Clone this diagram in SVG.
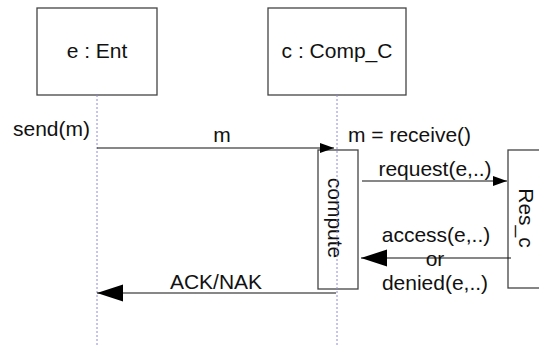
<svg xmlns="http://www.w3.org/2000/svg" width="539" height="347" viewBox="0 0 539 347">
  <style>
    .box { fill: #ffffff; stroke: #444444; stroke-width: 1.3; }
    .life { stroke: #8c8cd6; stroke-width: 1; stroke-dasharray: 2 2; fill: none; }
    .msg { stroke: #111111; stroke-width: 1.2; fill: none; }
    text { font-family: "Liberation Sans", Arial, sans-serif; font-size: 21px; fill: #111111; }
    .mid { text-anchor: middle; }
  </style>
  <defs>
    <marker id="headSmall" markerUnits="userSpaceOnUse" markerWidth="16" markerHeight="12" refX="14" refY="5" orient="auto">
      <path d="M0,0 L14,5 L0,10 Z" fill="#000000"/>
    </marker>
    <marker id="headLarge" markerUnits="userSpaceOnUse" markerWidth="28" markerHeight="20" refX="26" refY="8.5" orient="auto">
      <path d="M0,0 L26,8.5 L0,17 Z" fill="#000000"/>
    </marker>
  </defs>

  <rect width="539" height="347" fill="#ffffff"/>

  <g id="node-e">
    <rect class="box" x="37" y="8" width="120" height="87"/>
    <text class="mid" x="97" y="58">e : Ent</text>
  </g>

  <g id="node-c">
    <rect class="box" x="268" y="8" width="138" height="87"/>
    <text class="mid" x="337" y="58">c : Comp_C</text>
  </g>

  <g id="node-compute">
    <rect class="box" x="318" y="150" width="40" height="139"/>
    <text class="mid" transform="translate(328,218) rotate(90)">compute</text>
  </g>

  <g id="node-res">
    <rect class="box" x="508" y="150" width="40" height="138"/>
    <text class="mid" transform="translate(519,218) rotate(90)">Res_c</text>
  </g>

  <g id="lifelines">
    <line class="life" x1="97" y1="95" x2="97" y2="347"/>
    <line class="life" x1="337" y1="95" x2="337" y2="347"/>
  </g>

  <g id="connectors">
    <line class="msg" x1="97" y1="148" x2="334" y2="148" marker-end="url(#headSmall)"/>
    <line class="msg" x1="362" y1="181" x2="507" y2="181" marker-end="url(#headSmall)"/>
    <line class="msg" x1="511" y1="258" x2="361" y2="258" marker-end="url(#headLarge)"/>
    <line class="msg" x1="336" y1="293" x2="97" y2="293" marker-end="url(#headLarge)"/>
  </g>

  <g id="labels">
    <text x="13" y="136">send(m)</text>
    <text class="mid" x="222" y="142">m</text>
    <text x="348" y="142">m = receive()</text>
    <text class="mid" x="435" y="176">request(e,..)</text>
    <text class="mid" x="436" y="242">access(e,..)</text>
    <text class="mid" x="435" y="266">or</text>
    <text class="mid" x="435" y="290">denied(e,..)</text>
    <text class="mid" x="216" y="289">ACK/NAK</text>
  </g>
</svg>
